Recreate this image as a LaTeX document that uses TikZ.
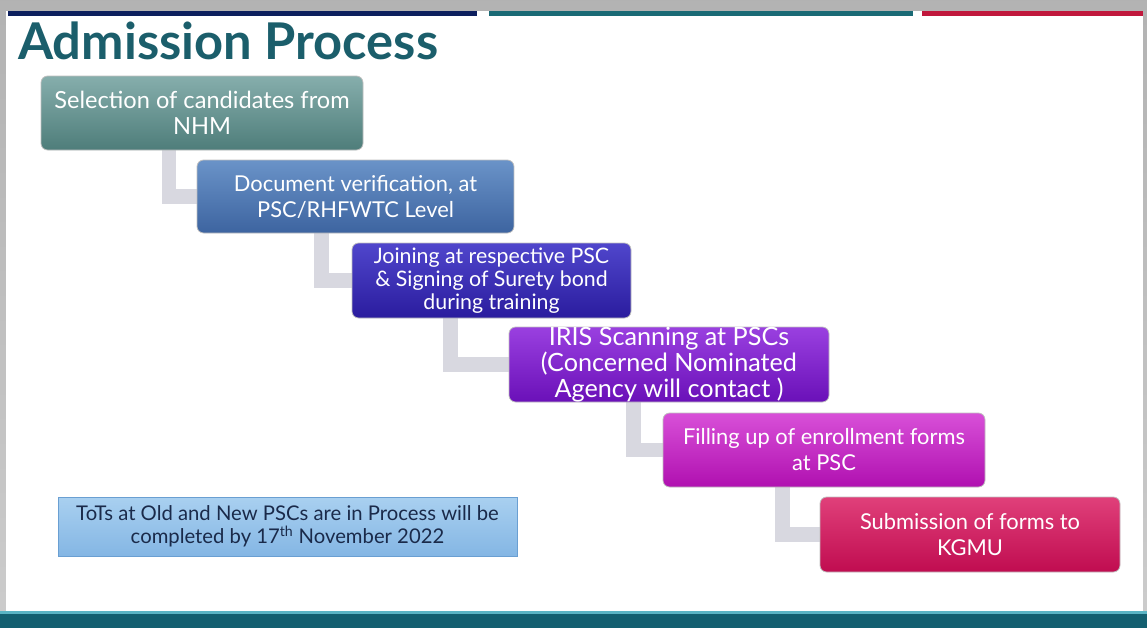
\documentclass[tikz,border=0pt]{standalone}
\usepackage{fontspec}
\setmainfont{Lato}
\pgfdeclarelayer{bg}
\pgfdeclarelayer{conn}
\pgfsetlayers{bg,conn,main}
\definecolor{titlecol}{HTML}{1B5E6B}
\definecolor{navybar}{HTML}{0C1F5E}
\definecolor{tealbar}{HTML}{1A6A75}
\definecolor{redbar}{HTML}{C0183C}
\definecolor{footbar}{HTML}{135F70}
\definecolor{footline}{HTML}{5AB4C4}
\definecolor{conncol}{HTML}{D8D8E0}
\definecolor{aT}{HTML}{86AEAC}\definecolor{aB}{HTML}{4E7D7A}
\definecolor{bT}{HTML}{6A93C8}\definecolor{bB}{HTML}{3D64A0}
\definecolor{cT}{HTML}{5046CC}\definecolor{cB}{HTML}{2A1C9E}
\definecolor{dT}{HTML}{9A40E0}\definecolor{dB}{HTML}{6A10B8}
\definecolor{eT}{HTML}{D850D8}\definecolor{eB}{HTML}{B010B0}
\definecolor{fT}{HTML}{E0407A}\definecolor{fB}{HTML}{C00C50}
\definecolor{noteT}{HTML}{A9D0F0}\definecolor{noteB}{HTML}{84B6E4}
\definecolor{noteD}{HTML}{6A9FD2}\definecolor{notetext}{HTML}{1A2A4A}
\tikzset{
  stepbox/.style={rounded corners=5pt, draw=white!75!black, line width=0.6pt,
    text=white, align=center, inner sep=0pt,
    font=\fontsize{16.4}{19.5}\selectfont},
  conn/.style={draw=conncol, line width=11pt, line cap=butt},
  notebox/.style={draw=noteD, line width=0.6pt, top color=noteT, bottom color=noteB,
    align=center, inner sep=0pt, text=notetext,
    font=\fontsize{15.2}{17.5}\selectfont},
}
\begin{document}
\begin{tikzpicture}[x=0.75pt,y=-0.75pt]
\useasboundingbox (0,0) rectangle (1147,628);
\begin{pgfonlayer}{bg}
  \fill[top color=black!30, bottom color=black!20] (0,0) rectangle (1147,628);
  \fill[white] (6,11) rectangle (1143,613);
  \fill[navybar] (8,11) rectangle (477,16);
  \fill[tealbar] (489,11) rectangle (913,16);
  \fill[redbar] (922,11) rectangle (1143,16);
  \fill[footbar] (0,612) rectangle (1147,628);
  \fill[footline] (0,611) rectangle (1147,614);
\end{pgfonlayer}

\node[anchor=base west, inner sep=0pt, text=titlecol,
      font=\bfseries\fontsize{38}{40}\selectfont] (title) at (18,60)
      {Admission Process};

\node[stepbox, top color=aT, bottom color=aB, minimum width=241.5pt, minimum height=55.5pt,
      font=\fontsize{17.7}{19.5}\selectfont]
  (b1) at (202,113) {Selection of candidates from\\NHM};
\node[stepbox, top color=bT, bottom color=bB, minimum width=237.75pt, minimum height=54.75pt]
  (b2) at (355.5,196.5) {Document verification, at\\PSC/RHFWTC Level};
\node[stepbox, top color=cT, bottom color=cB, minimum width=209.25pt, minimum height=56.25pt,
      font=\fontsize{16}{17.3}\selectfont]
  (b3) at (491.5,280.5) {Joining at respective PSC\\\& Signing of Surety bond\\during training};
\node[stepbox, top color=dT, bottom color=dB, minimum width=240pt, minimum height=56.25pt,
      font=\fontsize{18.9}{19.5}\selectfont]
  (b4) at (669,364.5) {IRIS Scanning at PSCs\\(Concerned Nominated\\Agency will contact )};
\node[stepbox, top color=eT, bottom color=eB, minimum width=241.5pt, minimum height=55.5pt]
  (b5) at (824,450) {Filling up of enrollment forms\\at PSC};
\node[stepbox, top color=fT, bottom color=fB, minimum width=225pt, minimum height=56.25pt]
  (b6) at (970,534.5) {Submission of forms to\\KGMU};

\node[notebox, minimum width=344.25pt, minimum height=44.25pt] (note) at (287.5,526.5)
  {ToTs at Old and New PSCs are in Process will be\\completed by 17\textsuperscript{th} November 2022};

\begin{pgfonlayer}{conn}
  \draw[conn] ([xshift=96.4pt]b1.south west) |- (b2.west);
  \draw[conn] ([xshift=93.75pt]b2.south west) |- (b3.west);
  \draw[conn] ([xshift=74.25pt]b3.south west) |- (b4.west);
  \draw[conn] ([xshift=93.75pt]b4.south west) |- (b5.west);
  \draw[conn] ([xshift=90pt]b5.south west) |- (b6.west);
\end{pgfonlayer}
\end{tikzpicture}
\end{document}
